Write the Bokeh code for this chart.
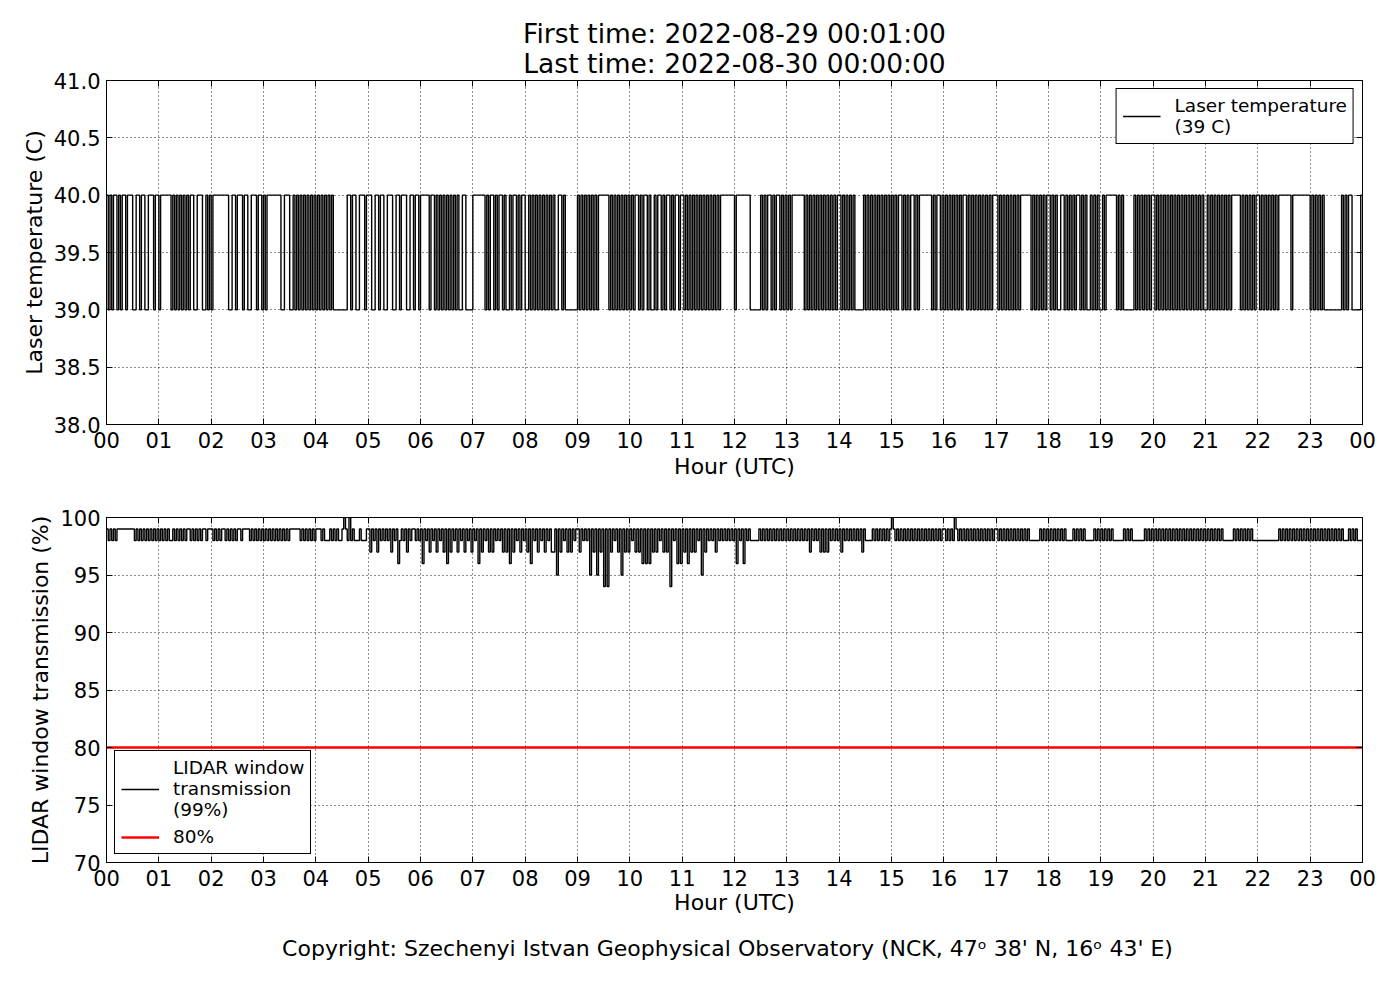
from bokeh.plotting import figure
from bokeh.models import Range1d, FixedTicker, LinearAxis, Title, PrintfTickFormatter
from bokeh.layouts import column
from bokeh.embed import file_html
from bokeh.resources import INLINE

FONT = "DejaVu Sans"

title_first = "First time: 2022-08-29 00:01:00"
title_last = "Last time: 2022-08-30 00:00:00"
footer_text = "Copyright: Szechenyi Istvan Geophysical Observatory (NCK, 47\u1d52  38' N, 16\u1d52  43' E)"

hour_ticks = [0, 1, 2, 3, 4, 5, 6, 7, 8, 9, 10, 11, 12, 13, 14, 15, 16, 17, 18, 19, 20, 21, 22, 23, 24]
hour_labels = ["00", "01", "02", "03", "04", "05", "06", "07", "08", "09", "10", "11",
               "12", "13", "14", "15", "16", "17", "18", "19", "20", "21", "22", "23", "00"]
temp_ticks = [38.0, 38.5, 39.0, 39.5, 40.0, 40.5, 41.0]
trans_ticks = [70, 75, 80, 85, 90, 95, 100]

temp_label = "Laser temperature\n(39 C)"
trans_label = "LIDAR window\ntransmission\n(99%)"
threshold_label = "80%"
threshold_value = 80

# Laser temperature, one string per hour, evenly spaced samples: '0' = 39 C, '1' = 40 C
laser_low, laser_high = 39, 40
laser_hourly = [
    "101011010110111001101100111011",
    "011111101010101010110011100101",
    "011111111100110111011001110110",
    "101111111100111001010101010101",
    "010101010100000000110110011101",
    "110011011001110011011100110110",
    "111110110101010101010100110000",
    "111111101011010110100101101011",
    "001010101010101010011010000000",
    "101010101010111111010101010101",
    "010110101101001011010110101101",
    "101010101010101010101011111111",
    "011111111000000101011010110101",
    "010111111101010101010101010101",
    "101010101000001010101010101010",
    "101011010101101011111110101101",
    "010101010101101010101010101011",
    "101010101010101111110101010101",
    "101010011010101011010100101010",
    "010111111010100000010101010101",
    "101010101010101010101010101010",
    "010101010101010111110101010101",
    "101010101010111111101111111111",
    "010101010000000000101011000001",
]

# LIDAR window transmission (%), one string per hour: digit d = 90+d %, 'T' = 100 %
trans_hourly = [
    "989898999999999989898989898989",
    "898989889898989899898989899899",
    "989898998989898998999989898989",
    "898989898989898999999898989898",
    "9998988898989889T98T8988898889",
    "979897989898979896898979899898",
    "969897989798979697989798979897",
    "989697989797989897979697989798",
    "979698979897989779597989797989",
    "979898959795979494979897959797",
    "989797969696979798979794989696",
    "979697979895979898979898989898",
    "969896989888889898989898989898",
    "989898989898979898979797989898",
    "979898989898979888898989898989",
    "T98989898989898989898989898989",
    "989898T98989898989898989898989",
    "989898989898989898988888898989",
    "898989898988889898989888889898",
    "989898988888898989888888898989",
    "898989898989898989898989898989",
    "898989898988888898989898989888",
    "888888888888989898989898989898",
    "989898989898989898988898989888",
]


def decode_laser(c):
    return laser_high if c == "1" else laser_low


def decode_trans(c):
    return 100 if c == "T" else 90 + int(c)


def build(hourly, decode):
    xs, ys = [], []
    for h, s in enumerate(hourly):
        n = len(s)
        for i, c in enumerate(s):
            xs.append(h + i / n)
            ys.append(decode(c))
    xs.append(float(hour_ticks[-1]))
    ys.append(ys[-1])
    return xs, ys


lt_x, lt_y = build(laser_hourly, decode_laser)
tr_x, tr_y = build(trans_hourly, decode_trans)

TICK_FS = "21px"
LABEL_FS = "22px"
SERIES_W = 1.4


def style_axis(ax, show_labels=True):
    ax.axis_line_color = "black"
    ax.axis_line_width = 1
    ax.major_tick_in = 6
    ax.major_tick_out = 0
    ax.minor_tick_in = 0
    ax.minor_tick_out = 0
    ax.major_tick_line_color = "black"
    ax.major_label_text_font = FONT
    ax.axis_label_text_font = FONT
    ax.axis_label_text_font_style = "normal"
    ax.axis_label_text_font_size = LABEL_FS
    ax.axis_label_text_color = "black"
    if show_labels:
        ax.major_label_text_font_size = TICK_FS
        ax.major_label_text_color = "black"
    else:
        # tick marks only: labels are not painted at all
        ax.major_label_text_font_size = "0px"
        ax.major_label_text_color = None
        ax.major_label_text_alpha = 0
        ax.major_label_standoff = 0


def make_panel(height, border_top, border_bottom, yticks, yfmt, ylabel, xlabel_standoff):
    p = figure(width=1392, height=height, output_backend="svg", toolbar_location=None,
               x_range=Range1d(hour_ticks[0], hour_ticks[-1]), y_range=Range1d(yticks[0], yticks[-1]),
               title=None, min_border_left=106, min_border_right=30,
               min_border_top=border_top, min_border_bottom=border_bottom)
    p.background_fill_color = "white"
    p.border_fill_color = "white"
    p.outline_line_color = "black"
    p.outline_line_width = 1

    p.xaxis.ticker = FixedTicker(ticks=hour_ticks)
    p.xaxis.major_label_overrides = {t: lab for t, lab in zip(hour_ticks, hour_labels)}
    p.xaxis.axis_label = "Hour (UTC)"
    p.xaxis.major_label_standoff = 7
    p.xaxis.axis_label_standoff = xlabel_standoff
    p.yaxis.ticker = FixedTicker(ticks=yticks)
    p.yaxis.formatter = PrintfTickFormatter(format=yfmt)
    p.yaxis.axis_label = ylabel
    p.yaxis.major_label_standoff = 6
    p.yaxis.axis_label_standoff = 4
    for ax in p.xaxis + p.yaxis:
        style_axis(ax)

    top = LinearAxis(ticker=FixedTicker(ticks=hour_ticks))
    style_axis(top, show_labels=False)
    p.add_layout(top, "above")
    right = LinearAxis(ticker=FixedTicker(ticks=yticks))
    style_axis(right, show_labels=False)
    p.add_layout(right, "right")

    for g in p.xgrid + p.ygrid:
        g.grid_line_color = "black"
        g.grid_line_width = 1
        g.grid_line_dash = "1 3"
        g.grid_line_alpha = 0.9
    p.xgrid.ticker = FixedTicker(ticks=hour_ticks)
    p.ygrid.ticker = FixedTicker(ticks=yticks)
    return p


def style_legend(lg, loc):
    lg.location = loc
    lg.label_text_font = FONT
    lg.label_text_font_size = "18.5px"
    lg.label_text_color = "black"
    lg.glyph_width = 38
    lg.label_standoff = 14
    lg.padding = 6
    lg.spacing = 6
    lg.margin = 8
    lg.border_line_color = "black"
    lg.border_line_width = 1
    lg.border_line_alpha = 1
    lg.background_fill_color = "white"
    lg.background_fill_alpha = 1


# ---- top panel
p1 = make_panel(486, 80, 62, temp_ticks, "%.1f", "Laser temperature (C)", 3)
p1.step(lt_x, lt_y, mode="after", line_color="black", line_width=SERIES_W, legend_label=temp_label)
style_legend(p1.legend[0], "top_right")
p1.add_layout(Title(text=title_last, align="center", text_font=FONT, text_font_size="26.5px",
                    text_font_style="normal", text_color="black", standoff=3), "above")
p1.add_layout(Title(text=title_first, align="center", text_font=FONT, text_font_size="26.5px",
                    text_font_style="normal", text_color="black", standoff=-8), "above")

# ---- bottom panel
p2 = make_panel(492, 31, 116, trans_ticks, "%d", "LIDAR window transmission (%)", 1)
p2.step(tr_x, tr_y, mode="after", line_color="black", line_width=SERIES_W, legend_label=trans_label)
p2.line([tr_x[0], tr_x[-1]], [threshold_value, threshold_value], line_color="red", line_width=2.5,
        legend_label=threshold_label)
style_legend(p2.legend[0], "bottom_left")
p2.add_layout(Title(text=footer_text, align="center", text_font=FONT, text_font_size="22px",
                    text_font_style="normal", text_color="black", standoff=33), "below")

layout = column(p1, p2, spacing=0)
open("out.html", "w").write(file_html(layout, INLINE))
